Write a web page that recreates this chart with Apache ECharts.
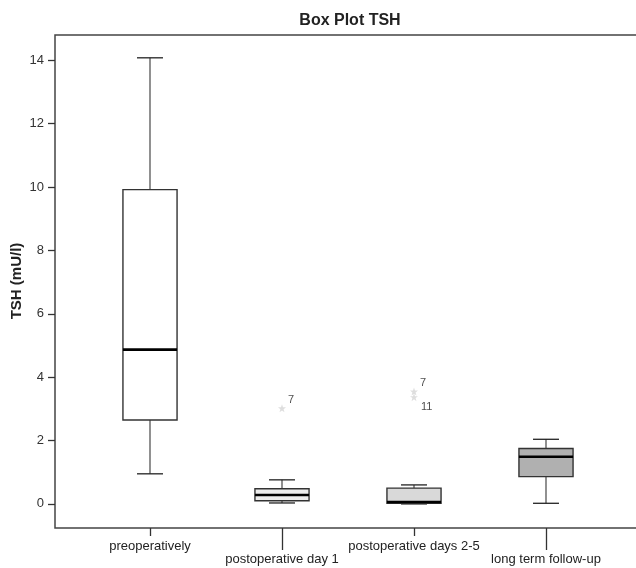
<!DOCTYPE html>
<html>
<head>
<meta charset="utf-8">
<title>Box Plot TSH</title>
<script src="https://cdn.jsdelivr.net/npm/echarts@6/dist/echarts.min.js"></script>
<style>
  html, body { margin: 0; padding: 0; background: #ffffff; }
  #chart { width: 636px; height: 568px; }
</style>
</head>
<body>
<div id="chart"></div>
<script>
// categories and box statistics
const categories = ['preoperatively', 'postoperative day 1', 'postoperative days 2-5', 'long term follow-up']
const whiskerLow = [0.95, 0.03, 0.0, 0.02]
const quartile1 = [2.65, 0.10, 0.02, 0.86]
const medians = [4.87, 0.28, 0.06, 1.49]
const quartile3 = [9.92, 0.48, 0.50, 1.75]
const whiskerHigh = [14.08, 0.76, 0.60, 2.04]

// outliers: [category index, value, case label]
const outliers = [
  [1, 3.02, '7'],
  [2, 3.55, '7'],
  [2, 3.37, '11']
]

const yTicks = [0, 2, 4, 6, 8, 10, 12, 14]
const yMin = -0.76
const yMax = 14.8
const yTitle = 'TSH (mU/l)'

const boxFills = ['#ffffff', '#ececec', '#d9d9d9', '#b0b0b0']
const font = 'Liberation Sans, Arial, sans-serif'

const chart = echarts.init(document.getElementById('chart'))

const boxData = categories.map((c, i) => [i, whiskerLow[i], quartile1[i], medians[i], quartile3[i], whiskerHigh[i]])

const renderBox = (params, api) => {
  const x = api.value(0)
  const lo = api.coord([x, api.value(1)])
  const q1 = api.coord([x, api.value(2)])
  const med = api.coord([x, api.value(3)])
  const q3 = api.coord([x, api.value(4)])
  const hi = api.coord([x, api.value(5)])
  const band = api.size([1, 0])[0]
  const bw = band * 0.41
  const cw = bw * 0.48
  const cx = lo[0]
  const whiskerStyle = { stroke: '#555', lineWidth: 1.3 }
  const capStyle = { stroke: '#222', lineWidth: 1.3 }
  return {
    type: 'group',
    children: [
      { type: 'line', shape: { x1: cx, y1: q1[1], x2: cx, y2: lo[1] }, style: whiskerStyle },
      { type: 'line', shape: { x1: cx, y1: q3[1], x2: cx, y2: hi[1] }, style: whiskerStyle },
      { type: 'line', shape: { x1: cx - cw / 2, y1: lo[1], x2: cx + cw / 2, y2: lo[1] }, style: capStyle },
      { type: 'line', shape: { x1: cx - cw / 2, y1: hi[1], x2: cx + cw / 2, y2: hi[1] }, style: capStyle },
      {
        type: 'rect',
        shape: { x: cx - bw / 2, y: q3[1], width: bw, height: q1[1] - q3[1] },
        style: { fill: boxFills[params.dataIndex], stroke: '#333', lineWidth: 1.4 }
      },
      { type: 'line', shape: { x1: cx - bw / 2, y1: med[1], x2: cx + bw / 2, y2: med[1] }, style: { stroke: '#000', lineWidth: 2.6 } }
    ]
  }
}

const starPath = 'path://M0,-10L2.35,-3.24L9.51,-3.09L3.8,1.24L5.88,8.09L0,4L-5.88,8.09L-3.8,1.24L-9.51,-3.09L-2.35,-3.24Z'

const option = {
  animation: false,
  backgroundColor: '#ffffff',
  title: {
    text: 'Box Plot TSH',
    left: 345,
    top: 8,
    textAlign: 'center',
    textStyle: { fontFamily: font, fontSize: 16, fontWeight: 'bold', color: '#222' }
  },
  // y axis title, placed by hand because the axis name kept sticking to the edge
  graphic: [
    {
      type: 'text',
      x: 17,
      y: 281,
      rotation: Math.PI / 2,
      style: {
        text: yTitle,
        fontFamily: font,
        fontSize: 15,
        fontWeight: 'bold',
        fill: '#222',
        align: 'center',
        verticalAlign: 'middle'
      }
    }
  ],
  grid: [
    { left: 84, right: 24, top: 35, bottom: 40, outerBoundsMode: 'none', containLabel: false },
    {
      left: 55, right: -3, top: 35, bottom: 40, outerBoundsMode: 'none', containLabel: false,
      show: true, borderColor: '#444', borderWidth: 1.5, backgroundColor: 'transparent'
    }
  ],
  xAxis: [
    {
      type: 'category', gridIndex: 0, data: categories, position: 'bottom',
      axisLine: { show: false, onZero: false },
      axisTick: { show: true, alignWithLabel: true, length: 8, interval: (i) => i % 2 === 0, lineStyle: { color: '#333', width: 1.3 } },
      axisLabel: { interval: (i) => i % 2 === 0, margin: 12, fontFamily: font, fontSize: 13, color: '#222' }
    },
    {
      type: 'category', gridIndex: 0, data: categories, position: 'bottom',
      axisLine: { show: false, onZero: false },
      axisTick: { show: true, alignWithLabel: true, length: 22, interval: (i) => i % 2 === 1, lineStyle: { color: '#333', width: 1.3 } },
      axisLabel: { interval: (i) => i % 2 === 1, margin: 25, fontFamily: font, fontSize: 13, color: '#222' }
    },
    { type: 'value', gridIndex: 1, show: false, min: 0, max: 1 }
  ],
  yAxis: [
    { type: 'value', gridIndex: 0, min: yMin, max: yMax, show: false },
    {
      type: 'value', gridIndex: 1, min: yMin, max: yMax,
      axisLine: { show: false, onZero: false },
      splitLine: { show: false },
      axisTick: { show: true, length: 7, customValues: yTicks, lineStyle: { color: '#333', width: 1.3 } },
      axisLabel: { customValues: yTicks, margin: 11, fontFamily: font, fontSize: 13, color: '#333' }
    }
  ],
  series: [
    {
      type: 'custom',
      xAxisIndex: 0,
      yAxisIndex: 0,
      renderItem: renderBox,
      encode: { x: 0, y: [1, 2, 3, 4, 5] },
      data: boxData,
      z: 3
    },
    {
      type: 'scatter',
      xAxisIndex: 0,
      yAxisIndex: 0,
      symbol: starPath,
      symbolSize: 8,
      itemStyle: { color: '#d6d6d6' },
      label: {
        show: true,
        formatter: (p) => p.value[2],
        fontFamily: font,
        fontSize: 11,
        color: '#222',
        position: 'right',
        distance: 3
      },
      data: outliers.map((o) => ({
        value: o,
        label: o[2] === '11' ? { offset: [0, 10] } : { offset: [-1, -8] }
      })),
      z: 4
    }
  ]
}

chart.setOption(option)
</script>
</body>
</html>
